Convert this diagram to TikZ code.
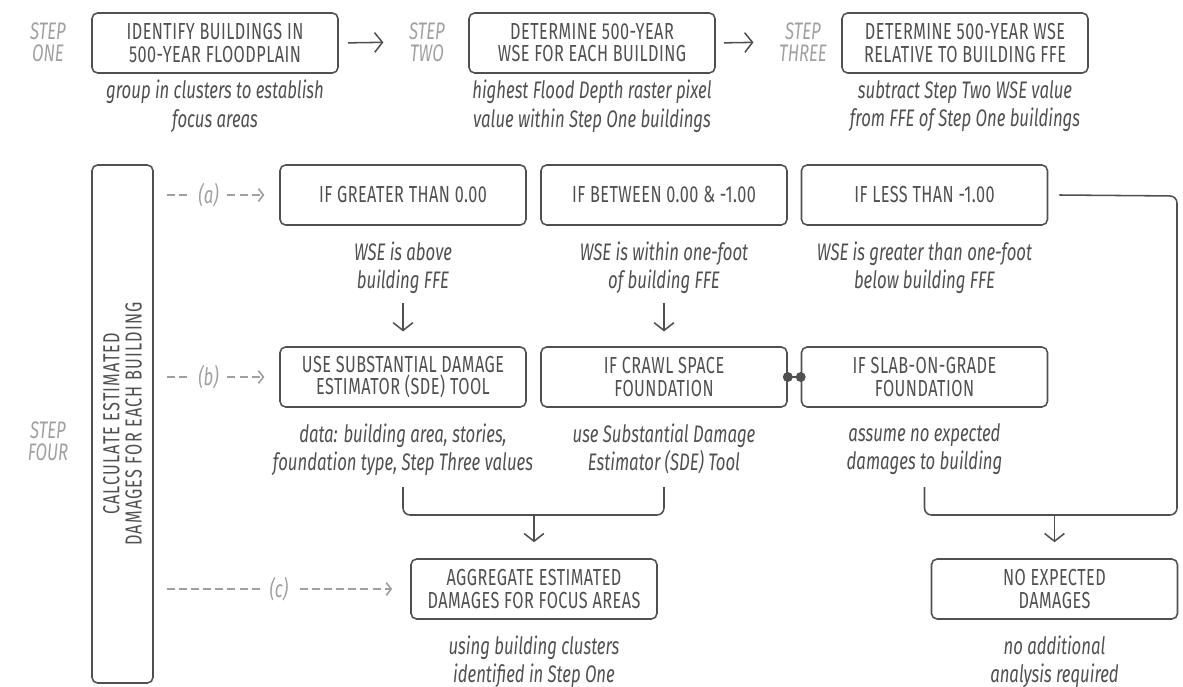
\documentclass[tikz,border=0pt]{standalone}
\usepackage{fontspec}
\setmainfont{Fira Sans}[FakeStretch=0.7]
\usetikzlibrary{arrows.meta,positioning}
\definecolor{inkc}{HTML}{505050}
\definecolor{softc}{HTML}{A0A0A0}
\tikzset{
  % decision / action box
  box/.style = {
    draw = inkc,
    line width = 1.1pt,
    rounded corners = 4pt,
    minimum width = 6.15cm,
    minimum height = 1.5cm,
    align = center,
    text = inkc,
    font = \fontsize{16.5}{15.8}\selectfont\addfontfeature{LetterSpace=2}
  },
  % italic note under a box
  note/.style = {
    align = center,
    text = inkc,
    inner sep = 1pt,
    font = \fontsize{17}{20}\selectfont\itshape
  },
  % step name at the side
  steplab/.style = {
    align = center,
    text = softc,
    font = \fontsize{17}{15.8}\selectfont\itshape
  },
  % solid arrow
  arr/.style = {
    draw = inkc,
    line width = 1.1pt,
    -{Straight Barb[length=5.5pt,width=14pt,line width=1.1pt]}
  },
  % solid joining line
  link/.style = {
    draw = inkc,
    line width = 1.1pt,
    rounded corners = 5pt
  },
  % dashed arrow from the step four box
  darr/.style = {
    draw = softc,
    line width = 1.2pt,
    dash pattern = on 5.7pt off 2.9pt,
    -{Straight Barb[length=3.5pt,width=9pt,line width=1.2pt]}
  },
  dlab/.style = {
    fill = white,
    text = softc,
    inner xsep = 6pt,
    font = \fontsize{17}{15}\selectfont\itshape
  },
  node distance = 0.5cm
}

\begin{document}
\begin{tikzpicture}[x=0.25mm,y=-0.25mm]
    \useasboundingbox (0,0) rectangle (1183,687);

    % steps one to three
    \node[steplab] (s one) at (48,42) {STEP\\ONE};
    \node[box] (identify) at (215,43) {IDENTIFY BUILDINGS IN\\500-YEAR FLOODPLAIN};
    \node[note] (identify note) [below=1.2mm of identify] {group in clusters to establish\\focus areas};

    \node[steplab] (s two) at (427,42) {STEP\\TWO};
    \node[box] (wse) at (592,43) {DETERMINE 500-YEAR\\WSE FOR EACH BUILDING};
    \node[note] (wse note) [below=1.2mm of wse] {highest Flood Depth raster pixel\\value within Step One buildings};

    \node[steplab] (s three) at (803,42) {STEP\\THREE};
    \node[box] (relative) at (965,43) {DETERMINE 500-YEAR WSE\\RELATIVE TO BUILDING FFE};
    \node[note] (relative note) [below=1.2mm of relative] {subtract Step Two WSE value\\from FFE of Step One buildings};

    % step four
    \node[steplab] (s four) at (48,441) {STEP\\FOUR};
    \node[box, rotate=90, minimum width=12.95cm, minimum height=1.525cm,
      font=\fontsize{16.5}{15.8}\selectfont\addfontfeature{LetterSpace=5}] (calc) at (122.5,424)
      {CALCULATE ESTIMATED\\DAMAGES FOR EACH BUILDING};

    \node[box] (greater) at (403,195) {IF GREATER THAN 0.00};
    \node[box] (between) at (664,195) {IF BETWEEN 0.00 \& -1.00};
    \node[box] (less) at (924.5,195) {IF LESS THAN -1.00};

    \node[note] (greater note) [below=3.5mm of greater] {WSE is above\\building FFE};
    \node[note] (between note) [below=3.5mm of between] {WSE is within one-foot\\of building FFE};
    \node[note] (less note) [below=3.5mm of less] {WSE is greater than one-foot\\below building FFE};

    \node[box] (sde) at (403,377) {USE SUBSTANTIAL DAMAGE\\ESTIMATOR (SDE) TOOL};
    \node[box] (crawl) at (664,377) {IF CRAWL SPACE\\FOUNDATION};
    \node[box] (slab) at (924.5,377) {IF SLAB-ON-GRADE\\FOUNDATION};

    \node[note] (sde note) [below=3.5mm of sde] {data: building area, stories,\\foundation type, Step Three values};
    \node[note] (crawl note) [below=3.5mm of crawl] {use Substantial Damage\\Estimator (SDE) Tool};
    \node[note] (slab note) [below=3.5mm of slab] {assume no expected\\damages to building};

    \node[box] (aggregate) at (534,589) {AGGREGATE ESTIMATED\\DAMAGES FOR FOCUS AREAS};
    \node[box] (none) at (1054.5,589) {NO EXPECTED\\DAMAGES};

    \node[note] (aggregate note) [below=3.5mm of aggregate] {using building clusters\\identified in Step One};
    \node[note] (none note) [below=3.5mm of none] {no additional\\analysis required};

    % rail points
    \coordinate (rail a) at (167,195);
    \coordinate (rail b) at (167,377);
    \coordinate (rail c) at (167,589);

    \coordinate (join left) at (403,487);
    \coordinate (join mid) at (534,515);
    \coordinate (join right) at (664,487);

    \coordinate (side top) at (1177,196);
    \coordinate (side mid) at (1054.5,515);
    \coordinate (side left) at (924.5,487);

    % top line
    \draw[arr, shorten <=2.3mm, shorten >=5.2mm] (identify.east) -- (s two.west);
    \draw[arr, shorten <=2mm, shorten >=5.2mm] (wse.east) -- (s three.west);

    % dashed rails
    \draw[darr, shorten >=3.7mm] (rail a) -- node[dlab, pos=0.37] {(a)} (greater.west);
    \draw[darr, shorten >=3.7mm] (rail b) -- node[dlab, pos=0.37] {(b)} (sde.west);
    \draw[darr, shorten >=4.5mm] (rail c) -- node[dlab, pos=0.46] {(c)} (aggregate.west);

    % down arrows
    \draw[arr, shorten <=19.2mm, shorten >=3.7mm] (greater.south) -- (sde.north);
    \draw[arr, shorten <=19.2mm, shorten >=3.7mm] (between.south) -- (crawl.north);

    % foundation link
    \draw[draw=inkc, line width=1.1pt, {Circle[length=7pt]}-{Circle[length=7pt]},
      shorten <=-3.5pt, shorten >=-3.5pt] (crawl.east) -- (slab.west);

    % joins
    \draw[link] (join left) -- (join left |- join mid) -- (join right |- join mid) -- (join right);
    \draw[arr, shorten >=4mm] (join mid) -- (aggregate.north);

    \draw[link] ([xshift=2.8mm]less.east) -- (side top) -- (side top |- side mid) -- (side left |- side mid) -- (side left);
    \draw[arr, shorten >=4mm] (side mid) -- (none.north);
\end{tikzpicture}
\end{document}
